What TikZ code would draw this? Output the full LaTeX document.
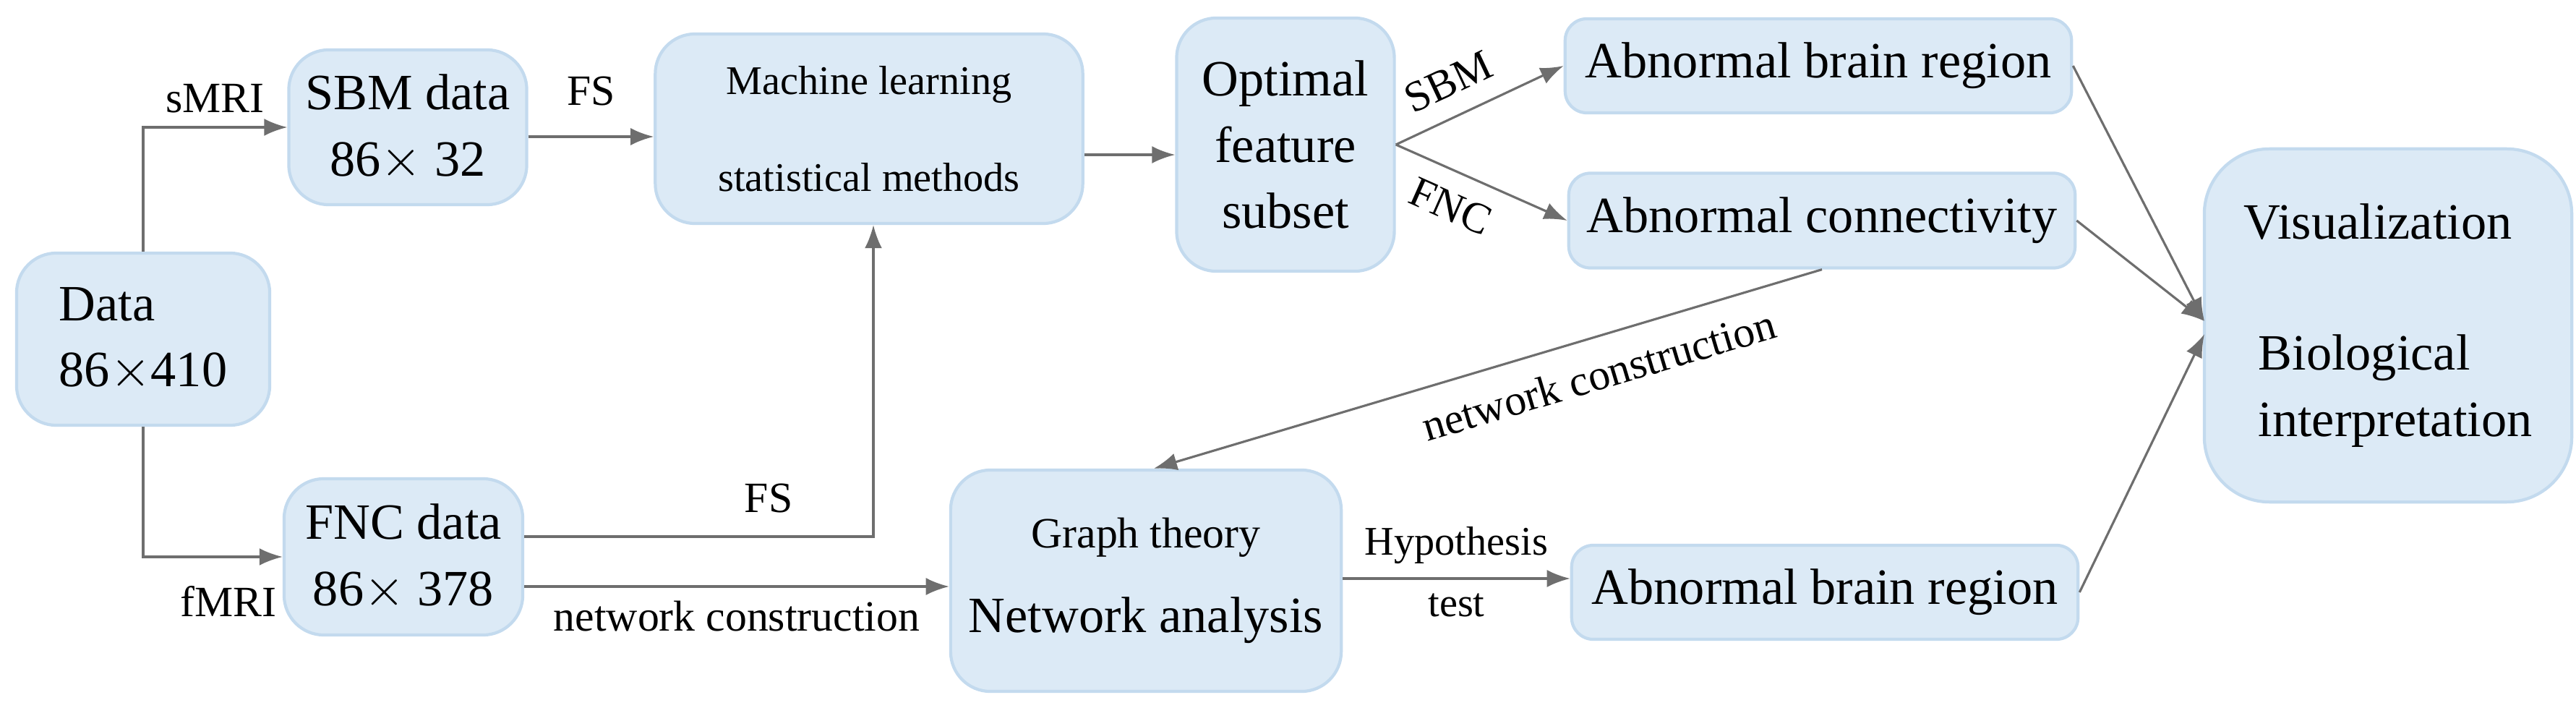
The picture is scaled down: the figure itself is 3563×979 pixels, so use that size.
\documentclass[tikz,border=0pt]{standalone}
\usepackage{fontspec}
\setmainfont{Liberation Serif}
\usetikzlibrary{arrows.meta,positioning,calc}
\definecolor{boxfill}{HTML}{DCEAF6}
\definecolor{boxline}{HTML}{C3DAEE}
\definecolor{arrowgray}{HTML}{6E6E6E}

\tikzset{
  box/.style={draw=boxline,line width=1.2pt,fill=boxfill,rounded corners=0.55cm,inner sep=0pt,align=center},
  flow/.style={draw=arrowgray,line width=0.9pt,-{Latex[length=3.2mm,width=2.4mm]}},
  lbl/.style={font=\fontsize{17}{20}\selectfont}
}

\begin{document}
\begin{tikzpicture}[x=0.01cm,y=-0.01cm,font=\fontsize{20}{26}\selectfont]
\useasboundingbox (0,0) rectangle (3563,979);
\node[box,minimum width=3.5cm,minimum height=2.38cm,align=left] (data) at (198,469) {Data\\86$\times$410};
\node[box,minimum width=3.29cm,minimum height=2.14cm] (sbm) at (564,176) {SBM data\\86$\times$ 32};
\node[box,minimum width=3.3cm,minimum height=2.16cm] (fnc) at (558,770) {FNC data\\86$\times$ 378};
\node[box,minimum width=5.91cm,minimum height=2.62cm,font=\fontsize{16}{38}\selectfont] (ml) at (1202,178) {Machine learning\\statistical methods};
\node[box,minimum width=3.01cm,minimum height=3.5cm] (opt) at (1778,200) {Optimal\\feature\\subset};
\node[box,minimum width=7.0cm,minimum height=1.3cm,rounded corners=0.3cm] (abr1) at (2515,91) {Abnormal brain region};
\node[box,minimum width=7.0cm,minimum height=1.31cm,rounded corners=0.3cm] (conn) at (2520,305) {Abnormal connectivity};
\node[box,minimum width=5.4cm,minimum height=3.06cm] (graph) at (1585,803) {{\fontsize{17}{20}\selectfont Graph theory}\\[0.25cm]Network analysis};
\node[box,minimum width=7.0cm,minimum height=1.3cm,rounded corners=0.3cm] (abr2) at (2524,819) {Abnormal brain region};
\node[box,minimum width=5.08cm,minimum height=4.88cm,rounded corners=0.9cm,align=left] (vis) at (3303,450) {Visualization\\[0.9cm]\hspace*{0.2cm}Biological\\\hspace*{0.2cm}interpretation};

\coordinate (vin1) at (3049,444);
\coordinate (vin2) at (3049,462);

% data split
\draw[flow] (data.north) |- node[pos=0.75,above=2pt,lbl] {sMRI} (sbm.west);
\draw[flow] (data.south) |- (fnc.west);
\node[lbl] (fmri) at (316,831) {fMRI};
% feature selection
\draw[flow] ([yshift=-0.13cm]sbm.east) -- node[above=0.3cm,lbl] {FS} ([yshift=-0.13cm]sbm.east -| ml.west);
\draw[flow] ([yshift=0.28cm]fnc.east) -| node[pos=0.35,above=0.2cm,lbl] {FS} ([xshift=0.06cm]ml.south);
\draw[flow] ([yshift=-0.41cm]fnc.east) -- node[below=2pt,lbl] {network construction} ([yshift=-0.41cm]fnc.east -| graph.west);
\draw[flow] ([yshift=-0.36cm]ml.east) -- ([yshift=-0.36cm]ml.east -| opt.west);
% optimal subset
\draw[flow] (opt.east) -- node[sloped,above=4pt,pos=0.4,lbl] {SBM} (abr1.west);
\draw[flow] (opt.east) -- node[sloped,below=4pt,pos=0.4,lbl] {FNC} (conn.west);
\draw[flow] (conn.south) -- node[sloped,below=5pt,pos=0.35,lbl] {network construction} ([xshift=0.11cm]graph.north);
\draw[flow] ([yshift=0.03cm]graph.east) -- node[above=2pt,font=\fontsize{16}{18}\selectfont] {Hypothesis} node[below=2pt,font=\fontsize{16}{18}\selectfont] {test} ([yshift=0.03cm]graph.east -| abr2.west);
% to visualization
\draw[flow] (abr1.east) -- (vin1);
\draw[flow] (conn.east) -- (vin1);
\draw[flow] (abr2.east) -- (vin2);
\end{tikzpicture}
\end{document}
